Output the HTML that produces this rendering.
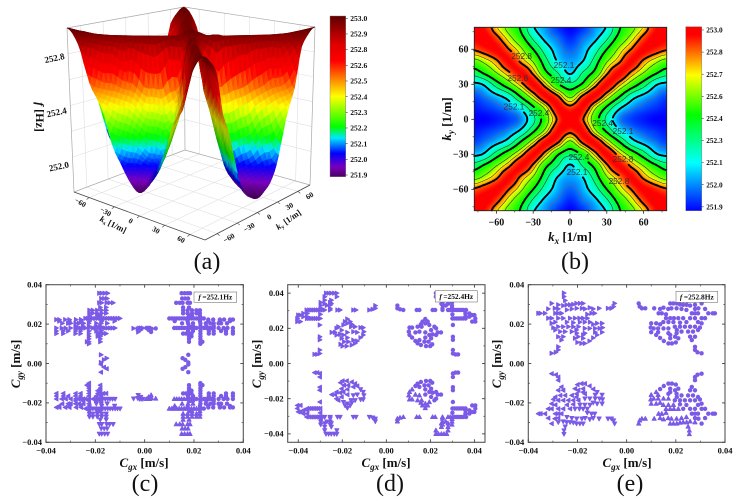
<!DOCTYPE html>
<html lang="en">
<head>
<meta charset="utf-8">
<title>Isofrequency surface and group velocity scatter</title>
<style>
html,body{margin:0;padding:0;background:#fff;width:745px;height:503px;overflow:hidden}
svg{display:block;filter:blur(.35px)}
text{font-family:"Liberation Serif",serif;fill:#111}
.b{font-weight:bold}
.cap{font-size:24px}
.title{font-size:13px;font-weight:bold}
</style>
</head>
<body>
<svg id="root" xmlns="http://www.w3.org/2000/svg" width="745" height="503" viewBox="0 0 745 503">
  <defs>
    <linearGradient id="barA" x1="0" y1="1" x2="0" y2="0"></linearGradient>
    <linearGradient id="barB" x1="0" y1="1" x2="0" y2="0"></linearGradient>
  </defs>
  <rect x="0" y="0" width="745" height="503" fill="#fff"/>
  <g id="panelA"></g>
  <g id="panelB"></g>
  <g id="panelC"></g>
  <g id="panelD"></g>
  <g id="panelE"></g>

  <text class="cap" x="207" y="269" text-anchor="middle">(a)</text>
  <text class="cap" x="575" y="269" text-anchor="middle">(b)</text>
  <text class="cap" x="145" y="491" text-anchor="middle">(c)</text>
  <text class="cap" x="390" y="491" text-anchor="middle">(d)</text>
  <text class="cap" x="630" y="491" text-anchor="middle">(e)</text>

  <text class="b" font-size="12" transform="translate(36,117) rotate(90)" text-anchor="middle"><tspan font-style="italic">f</tspan>  [Hz]</text>
  <text class="b" font-size="8.5" transform="translate(112,227) rotate(26)" text-anchor="middle"><tspan font-style="italic">k</tspan><tspan font-size="5.5" dy="1.5">x</tspan><tspan dy="-1.5"> [1/m]</tspan></text>
  <text class="b" font-size="8.5" transform="translate(290,222) rotate(-35)" text-anchor="middle"><tspan font-style="italic">k</tspan><tspan font-size="5.5" dy="1.5">y</tspan><tspan dy="-1.5"> [1/m]</tspan></text>

  <text class="title" x="570" y="241" text-anchor="middle"><tspan font-style="italic">k</tspan><tspan font-size="9" dy="3" font-style="italic">x</tspan><tspan dy="-3"> [1/m]</tspan></text>
  <text class="title" transform="translate(451,119) rotate(-90)" text-anchor="middle"><tspan font-style="italic">k</tspan><tspan font-size="9" dy="3" font-style="italic">y</tspan><tspan dy="-3"> [1/m]</tspan></text>

  <text class="title" x="144" y="467" text-anchor="middle"><tspan font-style="italic">C</tspan><tspan font-size="9" dy="3" font-style="italic">gx</tspan><tspan dy="-3"> [m/s]</tspan></text>
  <text class="title" transform="translate(20,364) rotate(-90)" text-anchor="middle"><tspan font-style="italic">C</tspan><tspan font-size="9" dy="3" font-style="italic">gy</tspan><tspan dy="-3"> [m/s]</tspan></text>
  <text class="title" x="386" y="467" text-anchor="middle"><tspan font-style="italic">C</tspan><tspan font-size="9" dy="3" font-style="italic">gx</tspan><tspan dy="-3"> [m/s]</tspan></text>
  <text class="title" transform="translate(261,364) rotate(-90)" text-anchor="middle"><tspan font-style="italic">C</tspan><tspan font-size="9" dy="3" font-style="italic">gy</tspan><tspan dy="-3"> [m/s]</tspan></text>
  <text class="title" x="627" y="467" text-anchor="middle"><tspan font-style="italic">C</tspan><tspan font-size="9" dy="3" font-style="italic">gx</tspan><tspan dy="-3"> [m/s]</tspan></text>
  <text class="title" transform="translate(501,364) rotate(-90)" text-anchor="middle"><tspan font-style="italic">C</tspan><tspan font-size="9" dy="3" font-style="italic">gy</tspan><tspan dy="-3"> [m/s]</tspan></text>
</svg>

<script>
/* ---------- DATA ---------- */
// Field f(kx,ky), one quadrant (mirrored in both axes)
const kTicks = [0,10,20,30,40,50,60,70,78];
const fieldRows = [
 [253.00,252.82,252.51,252.21,252.01,251.95,251.92,251.90,251.90],
 [252.84,252.93,252.64,252.37,252.13,252.02,251.97,251.94,251.92],
 [252.55,252.80,252.93,252.70,252.43,252.18,252.07,252.00,251.96],
 [252.28,252.42,252.72,252.93,252.74,252.52,252.32,252.12,252.07],
 [252.08,252.25,252.44,252.76,252.93,252.77,252.60,252.43,252.32],
 [252.03,252.09,252.30,252.58,252.76,252.93,252.77,252.64,252.55],
 [251.98,252.04,252.18,252.40,252.63,252.80,252.94,252.88,252.82],
 [251.93,251.99,252.06,252.22,252.46,252.65,252.84,252.97,252.95],
 [251.90,251.94,252.02,252.12,252.38,252.55,252.72,252.92,253.00]
];
const levelKnots = [251.9,252.0,252.1,252.25,252.4,252.6,252.7,252.8,253.0];
const thickLevels = [252.1,252.4,252.8];
const thinLevels = [252.25,252.6,252.7];
const greyLevels = [252.0];
const contourLabelText = ['252.8','252.8','252.1','252.4','252.1','252.4','252.4','252.1','252.4','252.1','252.8','252.8'];
const contourLabelKx = [-39.4,-42.6,-4.9,-7.3,-45.6,-25.3,26.6,43.2,7.3,5.7,43.2,39.9];
const contourLabelKy = [54.2,35.4,46.5,33.7,10.8,5.4,-3.2,-10,-32.3,-45.2,-34,-52.9];
const barLabelsA = ['253.0','252.9','252.8','252.6','252.5','252.4','252.3','252.2','252.1','252.0','251.9'];
const barLabelsB = ['253.0','252.8','252.7','252.6','252.4','252.3','252.1','252.0','251.9'];
const kAxisTicks = [-60,-30,0,30,60];
const zAxisTicks = [252.0,252.4,252.8];
const cgTickLabels = ['\u22120.04','\u22120.02','0.00','0.02','0.04'];
const cgTickValues = [-40,-20,0,20,40];
const cgMinorValues = [-30,-10,10,30];

// Group velocity points, top-right quadrant, in units of 0.001 m/s (mirrored to the four quadrants)
const rowsC = [
 [35.7,[15,16.2,17.4,18.4]],
 [33,[15.2,16.4,17.6]],
 [30.8,[12.8,14.2,15.4,17.4,18.4]],
 [28.5,[15.6,18]],
 [27,[15.6,17.4,19.2,21,22.4]],
 [25.5,[15.6,17.4,19.2,21,22.4]],
 [24.2,[18,19.2,22.4]],
 [22.9,[10,11,12,13,14,15,16,17,18,19,20,21,22,23,24]],
 [22.3,[25.8,27.8,30.5,32.2,34.6,35.8]],
 [21.5,[12.2,17.4,22.4,25.8,30.5,34.6]],
 [20.4,[15.2,17.6,19.6,22.6,24.8,26.6,28,30,31,33.4]],
 [19,[18,19.6,22.6,25,28]],
 [18,[12,13,14,15,16,17,18,19,20,21,22.6,24,25,26,27,28,30,32,33.6,35.8]],
 [16.5,[17.6,19.6,22.6,26,28,31,33,35.8]],
 [15.2,[15.6,16.8,18,19,22.6,26,28,33,35.8]],
 [13.8,[18,19,22.6]],
 [12.5,[18,22.6]],
 [11,[18,22.6,23.4]],
 [10,[22.6]]
];
const extraC = [[4.5,17.8],[2.8,17.6],[2.1,18],[1.4,18],[0.7,18],[2.6,16],[1.6,17],
 [17.7,4.4],[15.4,2.7],[16.5,1.9],[17.7,0.5]];
const pointsD = [[5,32.9],[5,31.4],[6.2,30.8],[7.7,30.4],[13.8,30.4],[15,30.4],[21,30.4],[22.2,30.4],
 [25.5,34.7],[25.5,33.2],[25.5,31.3],[25.5,30.4],[28,30.4],[29,30.4],[30,30.4],[31,30.4],[32,30.4],[33,30.4],[34,30.4],[35,30.4],[36.2,30.4],
 [29.8,34.7],[29.8,33],[29.8,31.5],[30,25.6],[31,25.6],[32,25.6],[33,25.6],[34,25.6],[35,25.6],[36,25.6],[30,28],
 [37.7,28.5],[39,27.5],[40,27.5],[40.4,25.6],[40.4,23.8],[39,23.8],[37.7,26.6],[35.9,28.5],[35.9,26.6],
 [30.2,21.9],[30.2,15.2],[30.2,13.5],[30.2,7.7],[30.2,5.7],[31.4,5.2],[32.6,5.2],
 [22.5,40],[23.7,40],[25,40],[26.2,40],[27.4,40],[28,38],[22.5,38],[28,36],[25,36],[28,34],[25,34],[27,33],
 [17.7,25.3],[17.7,22.8],[15.7,22.3],[14.2,20.9],[16,20.9],[19.5,21.9],[10.5,20.4],[11.7,20.4],[10.2,18.1],[13.2,17.7],[15,18.1],[17.7,17.7],
 [20.3,19],[22.6,20],[23.3,17.7],[24.8,17.7],[21,16.6],[19.5,16.2],[22.6,16.2],[10.5,16.2],[11.7,14.7],[13.2,12.8],[14.2,11.5],[15.7,10.5],
 [17.3,12.4],[17.7,14.7],[19.2,12.4],[18,9.9],[19.9,9.9],[20.8,10.9],[15,13.3],[20.3,14.3],[21.8,20.9],[16.4,23.8],[18.8,23.8]];
const pointsE = [[4.9,30.5],[5.3,28.9],[6.2,28],[7.6,28],[11.2,28],[13.6,27.7],[15,28.3],[13,25.5],[14.3,25.5],[16,25],
 [17.7,30.5],[19,30.5],[20.4,30.5],[21.7,30],[23,29.8],[24.4,29.8],[25.8,29.4],[16.9,27.7],[18.2,28],[20.3,28],[22.3,27.7],[24.3,27.2],
 [27.8,29.8],[29.2,28],[30.5,30.5],[31.9,27.7],[33.2,25.5],[35,25.5],[35.9,25.5],[27.8,27.7],[27.8,25.5],[26.5,25.5],[29,25.5],
 [30.5,23],[31.9,23],[16,23],[17.7,23],[19.2,23],[21,23],[23,23],[25.8,23],[27.8,23],
 [14.9,21],[17,21],[19,21],[21.7,20.7],[24.3,21],[29,21],[30.5,20.4],[10,20.4],[12,20.4],[13.6,19.9],
 [19.6,18.7],[21.7,18.7],[23.7,18.7],[25.8,18.7],[27.8,18.7],[29.8,18.2],[9.8,18.2],[11,17.8],[12.8,17.8],[15,17.8],[17,17.8],
 [10,15.9],[12.8,15.9],[17,15.4],[20.3,15.4],[22.3,16.2],[25,16.2],[27,16.2],[29,17],
 [12,14.5],[13.6,13],[15.1,11.4],[17,10.2],[18.4,10.2],[20,10.7],[17.7,12.8],[21,12.8],[25.8,13.6],[27.8,13.6],[26.5,11.9],
 [27.8,8.5],[27.8,6.9],[28.8,5.7],[30.5,5.2],[17.7,14.5],[19.7,13.6],[20.4,17],[25.5,35.8],[25.5,34],[25,32]];

/* ---------- COLOUR TABLES ---------- */
const mapPosA = [0,0.06,0.145,0.24,0.31,0.5,0.6,0.72,0.82,1];
const mapColA = [[74,0,96],[120,0,190],[0,0,255],[0,230,255],[0,255,0],[255,255,0],[255,140,0],[255,0,0],[225,0,0],[96,0,0]];
const mapPosB = [0,0.26,0.52,0.737,0.955,1];
const mapColB = [[0,0,255],[0,255,255],[0,255,0],[255,255,0],[255,0,0],[255,0,0]];

/* ---------- HELPERS ---------- */
const NS = 'http://www.w3.org/2000/svg';
function make(tag, attrs, parent){
  const e = document.createElementNS(NS, tag);
  for(const a in attrs) e.setAttribute(a, attrs[a]);
  if(parent) parent.appendChild(e);
  return e;
}
function colorAt(pos, cols, p){
  p = Math.max(0, Math.min(1, p));
  let i = 0;
  while(i < pos.length - 2 && p > pos[i+1]) i++;
  const t = (p - pos[i]) / (pos[i+1] - pos[i]);
  return [0,1,2].map(c => cols[i][c] + (cols[i+1][c] - cols[i][c]) * t);
}
const css = c => 'rgb(' + c.map(v => Math.round(v)).join(',') + ')';
function cr(a,b,c,d,t){
  return 0.5*((2*b)+(-a+c)*t+(2*a-5*b+4*c-d)*t*t+(-a+3*b-3*c+d)*t*t*t);
}
function locate(k){
  k = Math.min(78, Math.abs(k));
  let i = 0;
  while(i < kTicks.length - 2 && k > kTicks[i+1]) i++;
  return [i, (k - kTicks[i]) / (kTicks[i+1] - kTicks[i])];
}
const idx = i => Math.min(kTicks.length - 1, Math.abs(i));
function rawField(kx, ky){
  const [i,tx] = locate(kx), [j,ty] = locate(ky);
  const col = [];
  for(let r = -1; r <= 2; r++){
    const row = fieldRows[idx(j + r)];
    col.push(cr(row[idx(i-1)], row[idx(i)], row[idx(i+1)], row[idx(i+2)], tx));
  }
  return cr(col[0], col[1], col[2], col[3], ty);
}
// Keeps the ridge along |kx|=|ky| smooth between table rows
function field(kx, ky){
  const a = Math.min(78, Math.abs(kx)), b = Math.min(78, Math.abs(ky));
  const d = a - b, m = (a + b) / 2;
  const [i,t] = locate(m);
  const target = fieldRows[i][i] + (fieldRows[i+1][i+1] - fieldRows[i][i]) * t;
  const w = Math.exp(-(d*d)/49);
  const v = rawField(a, b) + w * (target - rawField(m, m));
  return Math.min(253, Math.max(251.9, v));
}
function levelPos(v){
  let i = 0;
  while(i < levelKnots.length - 2 && v > levelKnots[i+1]) i++;
  return (i + (v - levelKnots[i]) / (levelKnots[i+1] - levelKnots[i])) / (levelKnots.length - 1);
}

/* ---------- PANEL A: 3D SURFACE ---------- */
const panelA = document.getElementById('panelA');
const zFloor = 251.73, zTop = 253.0;
const floorA = [74,192], floorB = [205,240], floorC = [310,185], floorD = [185,150];
const topA = [67,28], topB = [203,57], topC = [315,27], topD = [184,7];
function bil(P00,P10,P11,P01,u,v){
  return [0,1].map(c => (1-u)*(1-v)*P00[c] + u*(1-v)*P10[c] + u*v*P11[c] + (1-u)*v*P01[c]);
}
function project(kx, ky, z){
  const u = (kx + 78) / 156, v = (ky + 78) / 156;
  const f = bil(floorA,floorB,floorC,floorD,u,v), g = bil(topA,topB,topC,topD,u,v);
  const t = (z - zFloor) / (zTop - zFloor);
  return [f[0] + (g[0]-f[0])*t, f[1] + (g[1]-f[1])*t];
}
function projectSurface(kx, ky, z){
  const p = project(kx, ky, z);
  const u = (kx + 78) / 156, v = (ky + 78) / 156, t = (z - zFloor) / (zTop - zFloor);
  return [p[0], p[1] + 10 * u * 4 * v * (1 - v) * (1 - t)];
}
const trueZ = v => 251.9 + 1.1 * levelPos(v);
const gridLayer = make('g', {stroke:'#dfdfdf','stroke-width':0.6,fill:'none'}, panelA);


function seg(parent, a, b, name, stroke, w){
  const l = make('line', {x1:a[0],y1:a[1],x2:b[0],y2:b[1]}, parent);
  if(stroke){ l.setAttribute('stroke', stroke); l.setAttribute('stroke-width', w); }
  
  
  return l;
}
kAxisTicks.forEach(k => {
  seg(gridLayer, project(k,-78,zFloor), project(k,78,zFloor), 'floor-gridline');
  seg(gridLayer, project(-78,k,zFloor), project(78,k,zFloor), 'floor-gridline');
  seg(gridLayer, project(k,78,zFloor), project(k,78,zTop), 'back-wall-gridline');
  seg(gridLayer, project(-78,k,zFloor), project(-78,k,zTop), 'side-wall-gridline');
});
[252.0,252.2,252.4,252.6,252.8].forEach(z => {
  seg(gridLayer, project(-78,-78,z), project(-78,78,z), 'wall-gridline');
  seg(gridLayer, project(-78,78,z), project(78,78,z), 'wall-gridline');
});
[[floorA,topA],[floorD,topD],[floorC,topC],[topA,topD],[topD,topC],[floorA,floorD],[floorD,floorC]].forEach(p => {
  seg(panelA, p[0], p[1], 'surface-box-edge', '#a9a9a9', 0.7);
});
seg(panelA, floorA, floorB, 'kx-axis-line', '#444', 0.8);
seg(panelA, floorB, floorC, 'ky-axis-line', '#444', 0.8);

const surfaceGroup = make('g', {}, panelA);


const N = 52, tris = [];
for(let i = 0; i < N; i++){
  for(let j = 0; j < N; j++){
    const x0 = -78 + 156*i/N, x1 = -78 + 156*(i+1)/N, y0 = -78 + 156*j/N, y1 = -78 + 156*(j+1)/N;
    const v00 = [x0,y0,trueZ(field(x0,y0))], v10 = [x1,y0,trueZ(field(x1,y0))], v11 = [x1,y1,trueZ(field(x1,y1))], v01 = [x0,y1,trueZ(field(x0,y1))];
    const sameSign = (x0+x1)*(y0+y1) > 0;
    const parts = sameSign ? [[v00,v11,v01],[v00,v11,v10]] : [[v01,v10,v00],[v01,v10,v11]];
    parts.forEach(tr => {
      tris.push({tr:tr,d:(tr[0][0]+tr[1][0]+tr[2][0]-tr[0][1]-tr[1][1]-tr[2][1])/3});
    });
  }
}
tris.sort((a,b) => a.d - b.d);
tris.forEach(q => {
  const [a,b,c] = q.tr;
  const pts = q.tr.map(v => projectSurface(v[0],v[1],v[2]));
  const zm = (a[2]+b[2]+c[2])/3;
  const ux = b[0]-a[0], uy = b[1]-a[1], uz = (b[2]-a[2])*100;
  const vx = c[0]-a[0], vy = c[1]-a[1], vz = (c[2]-a[2])*100;
  const nx = uy*vz-uz*vy, ny = uz*vx-ux*vz, nz = ux*vy-uy*vx;
  const len = Math.sqrt(nx*nx+ny*ny+nz*nz) || 1;
  const dot = Math.abs((nx*0.64 - ny*0.64 + nz*0.42)/len);
  const shade = 0.68 + 0.32*Math.min(1, dot*1.6);
  const col = colorAt(mapPosA, mapColA, (zm-251.9)/1.1).map(v => v*shade);
  const fill = css(col);
  const poly = make('polygon', {points:pts.map(p => p[0].toFixed(1)+','+p[1].toFixed(1)).join(' '),fill:fill,stroke:fill,'stroke-width':0.5}, surfaceGroup);
  
  
});

function label(parent, str, x, y, size, anchor, extra, name){
  const t = make('text', Object.assign({x:x,y:y,'font-size':size,'text-anchor':anchor,'font-weight':'bold'}, extra||{}), parent);
  t.textContent = str;
  
  
  return t;
}
const mm = v => v < 0 ? '\u2212' + Math.abs(v) : String(v);
kAxisTicks.forEach(k => {
  const p = project(k,-78,zFloor);
  seg(panelA, p, [p[0]-2.5,p[1]+2], 'kx-tick', '#444', 0.6);
  const lx = p[0]-10, ly = p[1]+7;
  label(panelA, mm(k), lx, ly, 7.5, 'middle', {transform:'rotate(30 '+lx+' '+ly+')'}, 'kx-tick-label');
  const q = project(78,k,zFloor);
  seg(panelA, q, [q[0]+2.5,q[1]+2], 'ky-tick', '#444', 0.6);
  const mx = q[0]+13, my = q[1]+6.5;
  label(panelA, mm(k), mx, my, 7.5, 'middle', {transform:'rotate(-30 '+mx+' '+my+')'}, 'ky-tick-label');
});
zAxisTicks.forEach(z => {
  const p = project(-78,-78,z);
  const t = (z-zFloor)/(zTop-zFloor);
  const lx = p[0]-13, ly = p[1]+6+8*(1-t);
  label(panelA, z.toFixed(1), lx, ly, 9, 'middle', {transform:'rotate(-12 '+lx+' '+ly+')'}, 'z-tick-label');
});
function colorbar(parent, gradId, pos, cols, labels, x, y0, w, h, first, step, fontSize, name){
  const grad = document.getElementById(gradId);
  pos.forEach((p,i) => make('stop', {offset:p,'stop-color':css(cols[i])}, grad));
  const r = make('rect', {x:x,y:y0,width:w,height:h,fill:'url(#'+gradId+')',stroke:'#777','stroke-width':0.4}, parent);
  
  
  labels.forEach((s,i) => {
    const yy = first + step*i;
    seg(parent, [x+w,yy], [x+w+2,yy], 'colorbar-tick', '#333', 0.6);
    label(parent, s, x+w+4.5, yy+2.6, fontSize, 'start', {}, 'colorbar-label');
  });
}
colorbar(panelA, 'barA', mapPosA, mapColA, barLabelsA, 330, 16, 15.7, 160.7, 18.3, 15.67, 7.6, 'surface-colorbar');

/* ---------- PANEL B: CONTOUR MAP ---------- */
const panelB = document.getElementById('panelB');
const bx = k => 570 + 1.227*k;
const by = k => 119.3 - 1.167*k;
const bxInv = px => (px - 570)/1.227;
const byInv = py => (119.3 - py)/1.167;
const bLeft = 474.3, bRight = 666.7, bTop = 27.3, bBottom = 210.7;
const heat = make('g', {'shape-rendering':'crispEdges'}, panelB);


for(let px = bLeft; px < bRight; px += 2){
  for(let py = bTop; py < bBottom; py += 2){
    const v = field(bxInv(px+1), byInv(py+1));
    const cell = make('rect', {x:px.toFixed(1),y:py.toFixed(1),width:Math.min(2.3,bRight-px).toFixed(2),height:Math.min(2.3,bBottom-py).toFixed(2),fill:css(colorAt(mapPosB,mapColB,levelPos(v)))}, heat);
    
    
  }
}
function inLabelGap(px, py){
  for(let i = 0; i < contourLabelKx.length; i++){
    if(Math.abs(px - bx(contourLabelKx[i])) < 10.5 && Math.abs(py - by(contourLabelKy[i])) < 5.5) return true;
  }
  return false;
}
const cStep = 1.5, cN = Math.round(156/cStep), cGrid = [];
for(let i = 0; i <= cN; i++){
  const column = [];
  for(let j = 0; j <= cN; j++) column.push(field(-78+i*cStep, -78+j*cStep));
  cGrid.push(column);
}
function contourPath(level, gap){
  let d = '';
  for(let i = 0; i < cN; i++){
    for(let j = 0; j < cN; j++){
      const x0 = -78+i*cStep, y0 = -78+j*cStep;
      const a = cGrid[i][j], b = cGrid[i+1][j], c = cGrid[i+1][j+1], e = cGrid[i][j+1];
      const cross = [];
      if((a-level)*(b-level) < 0) cross.push([x0+cStep*(level-a)/(b-a), y0]);
      if((b-level)*(c-level) < 0) cross.push([x0+cStep, y0+cStep*(level-b)/(c-b)]);
      if((e-level)*(c-level) < 0) cross.push([x0+cStep*(level-e)/(c-e), y0+cStep]);
      if((a-level)*(e-level) < 0) cross.push([x0, y0+cStep*(level-a)/(e-a)]);
      for(let m = 0; m + 1 < cross.length; m += 2){
        const p = [bx(cross[m][0]), by(cross[m][1])], q = [bx(cross[m+1][0]), by(cross[m+1][1])];
        if(gap && inLabelGap((p[0]+q[0])/2, (p[1]+q[1])/2)) continue;
        d += 'M' + p[0].toFixed(1) + ' ' + p[1].toFixed(1) + 'L' + q[0].toFixed(1) + ' ' + q[1].toFixed(1);
      }
    }
  }
  return d;
}
greyLevels.forEach(l => {
  const c = make('path', {d:contourPath(l,false),fill:'none',stroke:'#5a6a90','stroke-width':0.6}, panelB);
  
  
});
thinLevels.forEach(l => {
  const c = make('path', {d:contourPath(l,false),fill:'none',stroke:'#222','stroke-width':0.55}, panelB);
  
  
});
thickLevels.forEach(l => {
  const c = make('path', {d:contourPath(l,true),fill:'none',stroke:'#000','stroke-width':1.9,'stroke-linecap':'round'}, panelB);
  
  
});
contourLabelText.forEach((s,i) => {
  const t = make('text', {x:bx(contourLabelKx[i]),y:by(contourLabelKy[i])+2.8,'font-size':8.3,'text-anchor':'middle',style:'font-family:"Liberation Sans",sans-serif;fill:#333'}, panelB);
  t.textContent = s;
  
  
});
const bFrame = make('rect', {x:bLeft,y:bTop,width:bRight-bLeft,height:bBottom-bTop,fill:'none',stroke:'#222','stroke-width':0.9}, panelB);


kAxisTicks.forEach(k => {
  seg(panelB, [bx(k),bBottom], [bx(k),bBottom+3], 'contour-x-tick', '#222', 0.8);
  seg(panelB, [bLeft,by(k)], [bLeft-3,by(k)], 'contour-y-tick', '#222', 0.8);
  label(panelB, mm(k), bx(k), 225.5, 10, 'middle', {}, 'contour-x-tick-label');
  label(panelB, mm(k), 468.5, by(k)+3.4, 10, 'end', {}, 'contour-y-tick-label');
});
[-75,-45,-15,15,45,75].forEach(k => {
  seg(panelB, [bx(k),bBottom], [bx(k),bBottom+1.7], 'contour-x-minor-tick', '#222', 0.6);
  seg(panelB, [bLeft,by(k)], [bLeft-1.7,by(k)], 'contour-y-minor-tick', '#222', 0.6);
});
colorbar(panelB, 'barB', mapPosB, mapColB, barLabelsB, 685.7, 26.7, 16, 184, 30, 22.1, 7.3, 'contour-colorbar');

/* ---------- PANELS C, D, E: SCATTER ---------- */
const markColor = '#7a5ae6';
function drawMarker(g, px, py, kind, r){
  let m;
  if(kind === 'circle'){
    m = make('circle', {cx:px.toFixed(1),cy:py.toFixed(1),r:r,fill:markColor}, g);
  } else {
    const dirs = {up:[[0,-1],[-0.95,0.75],[0.95,0.75]],down:[[0,1],[-0.95,-0.75],[0.95,-0.75]],left:[[-1,0],[0.75,-0.95],[0.75,0.95]],right:[[1,0],[-0.75,-0.95],[-0.75,0.95]]};
    m = make('polygon', {points:dirs[kind].map(d => (px+d[0]*r).toFixed(1)+','+(py+d[1]*r).toFixed(1)).join(' '),fill:markColor,stroke:markColor,'stroke-width':0.9,'stroke-linejoin':'round'}, g);
  }
  
  
}
function kindFor(sx, sy, x, y){
  if(sx > 0 && sy > 0) return 'circle';
  if(sx < 0 && sy > 0) return 'right';
  if(sx < 0) return y > x ? 'down' : 'left';
  return y > x ? 'up' : 'circle';
}
function scatterPanel(id, pts, L, R, T, B, range, legendText, legX, legY, legW, legH){
  const g = document.getElementById(id);
  const fr = make('rect', {x:L,y:T,width:R-L,height:B-T,fill:'#fff',stroke:'#555','stroke-width':1.1}, g);
  
  
  const xs = v => (L+R)/2 + v*(R-L)/(2*range);
  const ys = v => (T+B)/2 - v*(B-T)/(2*range);
  pts.forEach(p => {
    [1,-1].forEach(sx => [1,-1].forEach(sy => {
      drawMarker(g, xs(sx*p[0]), ys(sy*p[1]), kindFor(sx,sy,p[0],p[1]), 2.2);
    }));
  });
  cgTickValues.forEach((v,i) => {
    seg(g, [xs(v),B], [xs(v),B-3], 'scatter-x-tick', '#444', 0.9);
    seg(g, [xs(v),T], [xs(v),T+3], 'scatter-x-tick-top', '#444', 0.9);
    seg(g, [L,ys(v)], [L+3,ys(v)], 'scatter-y-tick', '#444', 0.9);
    seg(g, [R,ys(v)], [R-3,ys(v)], 'scatter-y-tick-right', '#444', 0.9);
    label(g, cgTickLabels[i], xs(v), 453.5, 8.5, 'middle', {}, 'scatter-x-tick-label');
    label(g, cgTickLabels[i], L-4, ys(v)+2.8, 8.5, 'end', {}, 'scatter-y-tick-label');
  });
  cgMinorValues.forEach(v => {
    seg(g, [xs(v),B], [xs(v),B-1.7], 'scatter-x-minor-tick', '#444', 0.7);
    seg(g, [L,ys(v)], [L+1.7,ys(v)], 'scatter-y-minor-tick', '#444', 0.7);
    seg(g, [xs(v),T], [xs(v),T+1.7], 'scatter-x-minor-tick-top', '#444', 0.7);
    seg(g, [R,ys(v)], [R-1.7,ys(v)], 'scatter-y-minor-tick-right', '#444', 0.7);
  });
  const box = make('rect', {x:legX,y:legY,width:legW,height:legH,fill:'#fff',stroke:'#777','stroke-width':0.6}, g);
  
  
  const t = make('text', {x:legX+legW/2,y:legY+legH-3,'font-size':7.4,'font-weight':'bold','text-anchor':'middle'}, g);
  
  
  const fi = make('tspan', {'font-style':'italic'}, t);
  fi.textContent = 'f';
  t.appendChild(document.createTextNode(legendText));
}
const pointsC = [];
rowsC.forEach(r => r[1].forEach(x => pointsC.push([x, r[0]])));
extraC.forEach(p => pointsC.push(p));
scatterPanel('panelC', pointsC, 46, 243.3, 284.7, 442.3, 40, '\u2009=252.1Hz', 194, 292, 42.7, 10.3);
scatterPanel('panelD', pointsD, 287.7, 485, 284.7, 442.3, 44.8, '\u2009=252.4Hz', 435.3, 290.7, 42, 11.3);
scatterPanel('panelE', pointsE, 528.3, 725, 284.7, 442.3, 40, '\u2009=252.8Hz', 676, 291.3, 41.7, 11);
</script>
</body>
</html>
